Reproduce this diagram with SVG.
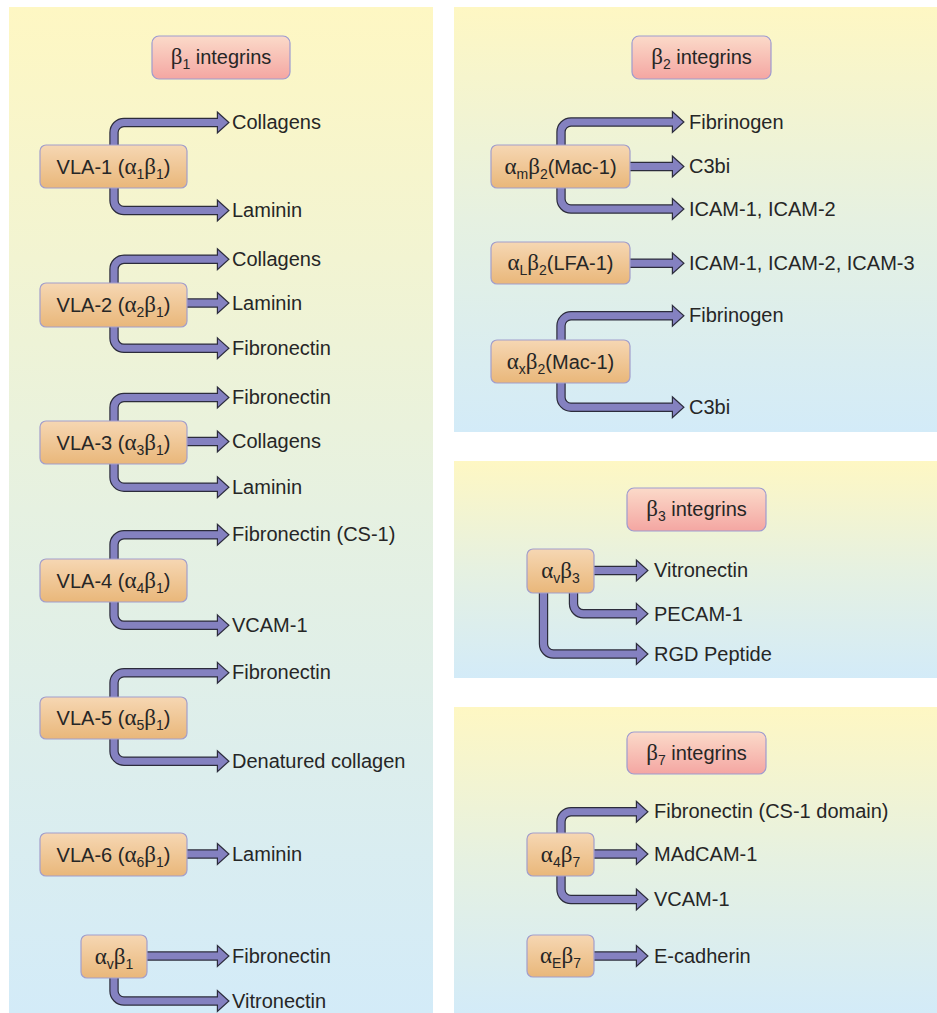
<svg xmlns="http://www.w3.org/2000/svg" xmlns:xlink="http://www.w3.org/1999/xlink" width="937" height="1013" viewBox="0 0 937 1013">
<defs>
<linearGradient id="gPanel" x1="0" y1="0" x2="0" y2="1">
<stop offset="0" stop-color="#fef7c3"/>
<stop offset="0.5" stop-color="#e6f1e1"/>
<stop offset="1" stop-color="#d3ebf8"/>
</linearGradient>
<linearGradient id="gHdr" x1="0" y1="0" x2="0" y2="1">
<stop offset="0" stop-color="#fbdac9"/>
<stop offset="1" stop-color="#f4a6a2"/>
</linearGradient>
<linearGradient id="gNode" x1="0" y1="0" x2="0" y2="1">
<stop offset="0" stop-color="#f6d7b3"/>
<stop offset="1" stop-color="#e9b77a"/>
</linearGradient>
<polygon id="hd" points="0,-9 10,0 0,9"/>
<g id="shafts">
<path d="M114,150 V132.5 A10,10 0 0 1 124,122.5 H219"/>
<path d="M114,183 V200.5 A10,10 0 0 0 124,210.5 H219"/>
<path d="M114,288 V269.2 A10,10 0 0 1 124,259.2 H219"/>
<path d="M185,303 H219"/>
<path d="M114,322 V338.3 A10,10 0 0 0 124,348.3 H219"/>
<path d="M114,426 V407.5 A10,10 0 0 1 124,397.5 H219"/>
<path d="M185,441.5 H219"/>
<path d="M114,459 V477.2 A10,10 0 0 0 124,487.2 H219"/>
<path d="M114,564 V544.7 A10,10 0 0 1 124,534.7 H219"/>
<path d="M114,597 V615.3 A10,10 0 0 0 124,625.3 H219"/>
<path d="M114,702 V682.8 A10,10 0 0 1 124,672.8 H219"/>
<path d="M114,734 V751.2 A10,10 0 0 0 124,761.2 H219"/>
<path d="M185,854 H219"/>
<path d="M145,956 H219"/>
<path d="M114,973 V991 A10,10 0 0 0 124,1001 H219"/>
<path d="M561,150 V132 A10,10 0 0 1 571,122 H674"/>
<path d="M628,166.5 H674"/>
<path d="M561,183 V199 A10,10 0 0 0 571,209 H674"/>
<path d="M628,263.3 H674"/>
<path d="M561,345 V325.8 A10,10 0 0 1 571,315.8 H674"/>
<path d="M561,378 V397.2 A10,10 0 0 0 571,407.2 H674"/>
<path d="M592,570.5 H638"/>
<path d="M573.5,588 V603.8 A10,10 0 0 0 583.5,613.8 H638"/>
<path d="M543.5,588 V644 A10,10 0 0 0 553.5,654 H638"/>
<path d="M561,838 V821.7 A10,10 0 0 1 571,811.7 H638"/>
<path d="M592,854 H638"/>
<path d="M561,871 V889.5 A10,10 0 0 0 571,899.5 H638"/>
<path d="M592,956 H638"/>
</g>
<g id="heads">
<use xlink:href="#hd" x="218" y="122.5"/>
<use xlink:href="#hd" x="218" y="210.5"/>
<use xlink:href="#hd" x="218" y="259.2"/>
<use xlink:href="#hd" x="218" y="303"/>
<use xlink:href="#hd" x="218" y="348.3"/>
<use xlink:href="#hd" x="218" y="397.5"/>
<use xlink:href="#hd" x="218" y="441.5"/>
<use xlink:href="#hd" x="218" y="487.2"/>
<use xlink:href="#hd" x="218" y="534.7"/>
<use xlink:href="#hd" x="218" y="625.3"/>
<use xlink:href="#hd" x="218" y="672.8"/>
<use xlink:href="#hd" x="218" y="761.2"/>
<use xlink:href="#hd" x="218" y="854"/>
<use xlink:href="#hd" x="218" y="956"/>
<use xlink:href="#hd" x="218" y="1001"/>
<use xlink:href="#hd" x="673" y="122"/>
<use xlink:href="#hd" x="673" y="166.5"/>
<use xlink:href="#hd" x="673" y="209"/>
<use xlink:href="#hd" x="673" y="263.3"/>
<use xlink:href="#hd" x="673" y="315.8"/>
<use xlink:href="#hd" x="673" y="407.2"/>
<use xlink:href="#hd" x="637" y="570.5"/>
<use xlink:href="#hd" x="637" y="613.8"/>
<use xlink:href="#hd" x="637" y="654"/>
<use xlink:href="#hd" x="637" y="811.7"/>
<use xlink:href="#hd" x="637" y="854"/>
<use xlink:href="#hd" x="637" y="899.5"/>
<use xlink:href="#hd" x="637" y="956"/>
</g>
</defs>
<style>
.panel{fill:url(#gPanel)}
.hdr rect{fill:url(#gHdr);stroke:#9d9bd0;stroke-width:1.2}
.node rect{fill:url(#gNode);stroke:#a29ecb;stroke-width:1.2}
text{font-family:"Liberation Sans",Arial,sans-serif;font-size:20px;fill:#262626}
.m{text-anchor:middle}
.g{font-family:"Liberation Serif","Times New Roman",serif;font-size:23px}
.s{font-size:14px}
.su{fill:none;stroke:#2c2c3c;stroke-width:9.4}
.so{fill:none;stroke:#8481c0;stroke-width:7}
.hu{fill:#2c2c3c;stroke:#2c2c3c;stroke-width:2.4;stroke-linejoin:miter}
.ho{fill:#8481c0;stroke:none}
</style>
<rect width="937" height="1013" fill="#ffffff"/>
<g id="panels">
<rect class="panel" x="9" y="7" width="424" height="1006"/>
<rect class="panel" x="454" y="7" width="483" height="425"/>
<rect class="panel" x="454" y="461" width="483" height="217"/>
<rect class="panel" x="454" y="707" width="483" height="306"/>
</g>
<g id="connectors">
<use xlink:href="#shafts" class="su"/>
<use xlink:href="#heads" class="hu"/>
<use xlink:href="#shafts" class="so"/>
<use xlink:href="#heads" class="ho"/>
</g>
<g id="hdr-b1" class="hdr"><rect x="152" y="36" width="138" height="43" rx="7"/><text x="221" y="64" class="m"><tspan class="g">β</tspan><tspan class="s" dy="5">1</tspan><tspan dy="-5"> integrins</tspan></text></g>
<g id="hdr-b2" class="hdr"><rect x="632" y="36" width="139" height="43" rx="7"/><text x="701.5" y="64" class="m"><tspan class="g">β</tspan><tspan class="s" dy="5">2</tspan><tspan dy="-5"> integrins</tspan></text></g>
<g id="hdr-b3" class="hdr"><rect x="627" y="488" width="139" height="43" rx="7"/><text x="696.5" y="516" class="m"><tspan class="g">β</tspan><tspan class="s" dy="5">3</tspan><tspan dy="-5"> integrins</tspan></text></g>
<g id="hdr-b7" class="hdr"><rect x="627" y="732" width="139" height="42" rx="7"/><text x="696.5" y="760" class="m"><tspan class="g">β</tspan><tspan class="s" dy="5">7</tspan><tspan dy="-5"> integrins</tspan></text></g>
<g id="vla1" class="node"><rect x="40" y="145" width="147" height="43" rx="6"/><text x="113.5" y="174" class="m">VLA-1 (<tspan class="g">α</tspan><tspan class="s" dy="5">1</tspan><tspan class="g" dy="-5">β</tspan><tspan class="s" dy="5">1</tspan><tspan dy="-5">)</tspan></text></g>
<g id="vla2" class="node"><rect x="40" y="283" width="147" height="44" rx="6"/><text x="113.5" y="312" class="m">VLA-2 (<tspan class="g">α</tspan><tspan class="s" dy="5">2</tspan><tspan class="g" dy="-5">β</tspan><tspan class="s" dy="5">1</tspan><tspan dy="-5">)</tspan></text></g>
<g id="vla3" class="node"><rect x="40" y="421" width="147" height="43" rx="6"/><text x="113.5" y="450" class="m">VLA-3 (<tspan class="g">α</tspan><tspan class="s" dy="5">3</tspan><tspan class="g" dy="-5">β</tspan><tspan class="s" dy="5">1</tspan><tspan dy="-5">)</tspan></text></g>
<g id="vla4" class="node"><rect x="40" y="559" width="147" height="43" rx="6"/><text x="113.5" y="588" class="m">VLA-4 (<tspan class="g">α</tspan><tspan class="s" dy="5">4</tspan><tspan class="g" dy="-5">β</tspan><tspan class="s" dy="5">1</tspan><tspan dy="-5">)</tspan></text></g>
<g id="vla5" class="node"><rect x="40" y="697" width="147" height="42" rx="6"/><text x="113.5" y="725" class="m">VLA-5 (<tspan class="g">α</tspan><tspan class="s" dy="5">5</tspan><tspan class="g" dy="-5">β</tspan><tspan class="s" dy="5">1</tspan><tspan dy="-5">)</tspan></text></g>
<g id="vla6" class="node"><rect x="40" y="833" width="147" height="43" rx="6"/><text x="113.5" y="862" class="m">VLA-6 (<tspan class="g">α</tspan><tspan class="s" dy="5">6</tspan><tspan class="g" dy="-5">β</tspan><tspan class="s" dy="5">1</tspan><tspan dy="-5">)</tspan></text></g>
<g id="avb1" class="node"><rect x="81" y="935" width="66" height="43" rx="6"/><text x="114" y="964" class="m"><tspan class="g">α</tspan><tspan class="s" dy="5">v</tspan><tspan class="g" dy="-5">β</tspan><tspan class="s" dy="5">1</tspan></text></g>
<g id="amb2" class="node"><rect x="491" y="145" width="139" height="43" rx="6"/><text x="560.5" y="174" class="m"><tspan class="g">α</tspan><tspan class="s" dy="5">m</tspan><tspan class="g" dy="-5">β</tspan><tspan class="s" dy="5">2</tspan><tspan dy="-5">(Mac-1)</tspan></text></g>
<g id="alb2" class="node"><rect x="491" y="242" width="139" height="42" rx="6"/><text x="560.5" y="270" class="m"><tspan class="g">α</tspan><tspan class="s" dy="5">L</tspan><tspan class="g" dy="-5">β</tspan><tspan class="s" dy="5">2</tspan><tspan dy="-5">(LFA-1)</tspan></text></g>
<g id="axb2" class="node"><rect x="491" y="340" width="139" height="43" rx="6"/><text x="560.5" y="369" class="m"><tspan class="g">α</tspan><tspan class="s" dy="5">x</tspan><tspan class="g" dy="-5">β</tspan><tspan class="s" dy="5">2</tspan><tspan dy="-5">(Mac-1)</tspan></text></g>
<g id="avb3" class="node"><rect x="527" y="549" width="67" height="44" rx="6"/><text x="560.5" y="578" class="m"><tspan class="g">α</tspan><tspan class="s" dy="5">v</tspan><tspan class="g" dy="-5">β</tspan><tspan class="s" dy="5">3</tspan></text></g>
<g id="a4b7" class="node"><rect x="527" y="833" width="67" height="43" rx="6"/><text x="560.5" y="862" class="m"><tspan class="g">α</tspan><tspan class="s" dy="5">4</tspan><tspan class="g" dy="-5">β</tspan><tspan class="s" dy="5">7</tspan></text></g>
<g id="aEb7" class="node"><rect x="527" y="935" width="67" height="42" rx="6"/><text x="560.5" y="963" class="m"><tspan class="g">α</tspan><tspan class="s" dy="5">E</tspan><tspan class="g" dy="-5">β</tspan><tspan class="s" dy="5">7</tspan></text></g>
<g id="ligands">
<text x="232" y="129">Collagens</text>
<text x="232" y="217">Laminin</text>
<text x="232" y="265.5">Collagens</text>
<text x="232" y="309.5">Laminin</text>
<text x="232" y="355">Fibronectin</text>
<text x="232" y="404">Fibronectin</text>
<text x="232" y="448">Collagens</text>
<text x="232" y="493.5">Laminin</text>
<text x="232" y="541">Fibronectin (CS-1)</text>
<text x="232" y="632">VCAM-1</text>
<text x="232" y="679">Fibronectin</text>
<text x="232" y="768">Denatured collagen</text>
<text x="232" y="860.5">Laminin</text>
<text x="232" y="962.5">Fibronectin</text>
<text x="232" y="1007.5">Vitronectin</text>
<text x="689" y="128.5">Fibrinogen</text>
<text x="689" y="173">C3bi</text>
<text x="689" y="215.5">ICAM-1, ICAM-2</text>
<text x="689" y="270">ICAM-1, ICAM-2, ICAM-3</text>
<text x="689" y="322">Fibrinogen</text>
<text x="689" y="413.5">C3bi</text>
<text x="654" y="577">Vitronectin</text>
<text x="654" y="620.5">PECAM-1</text>
<text x="654" y="660.5">RGD Peptide</text>
<text x="654" y="818">Fibronectin (CS-1 domain)</text>
<text x="654" y="860.5">MAdCAM-1</text>
<text x="654" y="906">VCAM-1</text>
<text x="654" y="962.5">E-cadherin</text>
</g>
</svg>
